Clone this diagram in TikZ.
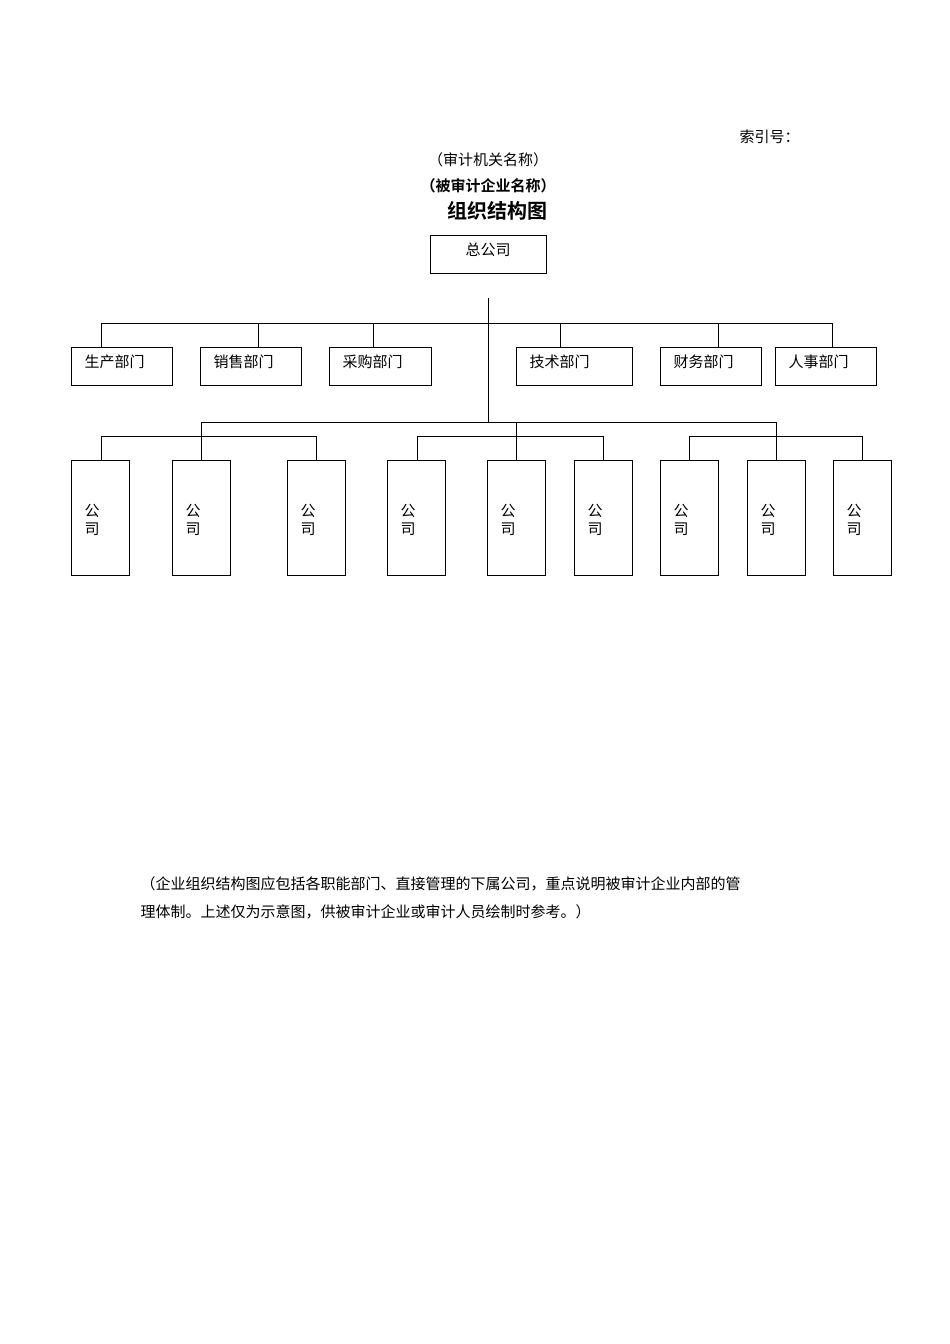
\documentclass[tikz,border=0pt]{standalone}
\usepackage{fontspec}
\newfontfamily\cjk{Noto Sans CJK SC}
\newfontfamily\cjkb{Noto Sans CJK SC Bold}
\begin{document}
\begin{tikzpicture}[x=1pt,y=-1pt,line width=1pt,
  txt/.style={font=\cjk\fontsize{15}{18}\selectfont,inner sep=0},
  bx/.style={draw,minimum width=101pt,minimum height=38pt,inner sep=0},
  cbox/.style={draw,minimum width=58pt,minimum height=115pt,inner sep=0}]
\useasboundingbox (0,0) rectangle (950,1344);
\node[txt,anchor=east] (idx) at (800,137) {索引号：};
\node[txt] (t1) at (488,160) {（审计机关名称）};
\node[txt,font=\cjkb\fontsize{15}{18}\selectfont] (t2) at (488,186) {（被审计企业名称）};
\node[txt,font=\cjkb\fontsize{20}{24}\selectfont] (t3) at (497,211) {组织结构图};
\node[draw,minimum width=116pt,minimum height=38pt,inner sep=0] (hq) at (488,254) {};
\node[txt] at (488,250) {总公司};
\coordinate (trunk) at (488,298);
\coordinate (lb) at (488,422);
\draw (trunk) -- (lb);
\draw (101,323) -- (832,323);
\foreach \n/\l/\r/\tk/\t in {d1/71/172/101/生产部门,d2/200/301/258/销售部门,d3/329/431/373/采购部门,d4/516/632/560/技术部门,d5/660/761/718/财务部门,d6/775/876/832/人事部门}{
  \node[bx,minimum width=\r-\l] (\n) at ({(\l+\r)/2},366) {};
  \node[txt,anchor=west] at (\l+13,362) {\t};
  \draw (\tk,323) -- (\tk,347);
}
\draw (201,422) -- (776,422);
\foreach \a/\b/\c in {101/316/201,417/603/516,689/862/776}{
  \draw (\a,436) -- (\b,436);
  \draw (\c,422) -- (\c,460);
  \draw (\a,436) -- (\a,460);
  \draw (\b,436) -- (\b,460);
}
\foreach \i/\l in {1/71,2/172,3/287,4/387,5/487,6/574,7/660,8/747,9/833}{
  \node[cbox] (c\i) at (\l+29.5,517.5) {};
  \node[txt,align=center] at (\l+21,520) {公\\司};
}
\node[txt,anchor=west] (n1) at (140,884) {（企业组织结构图应包括各职能部门、直接管理的下属公司，重点说明被审计企业内部的管};
\node[txt,anchor=west] (n1b) at (808,884) {};
\node[txt,anchor=west] (n2) at (140,912) {理体制。上述仅为示意图，供被审计企业或审计人员绘制时参考。）};
\end{tikzpicture}
\end{document}
